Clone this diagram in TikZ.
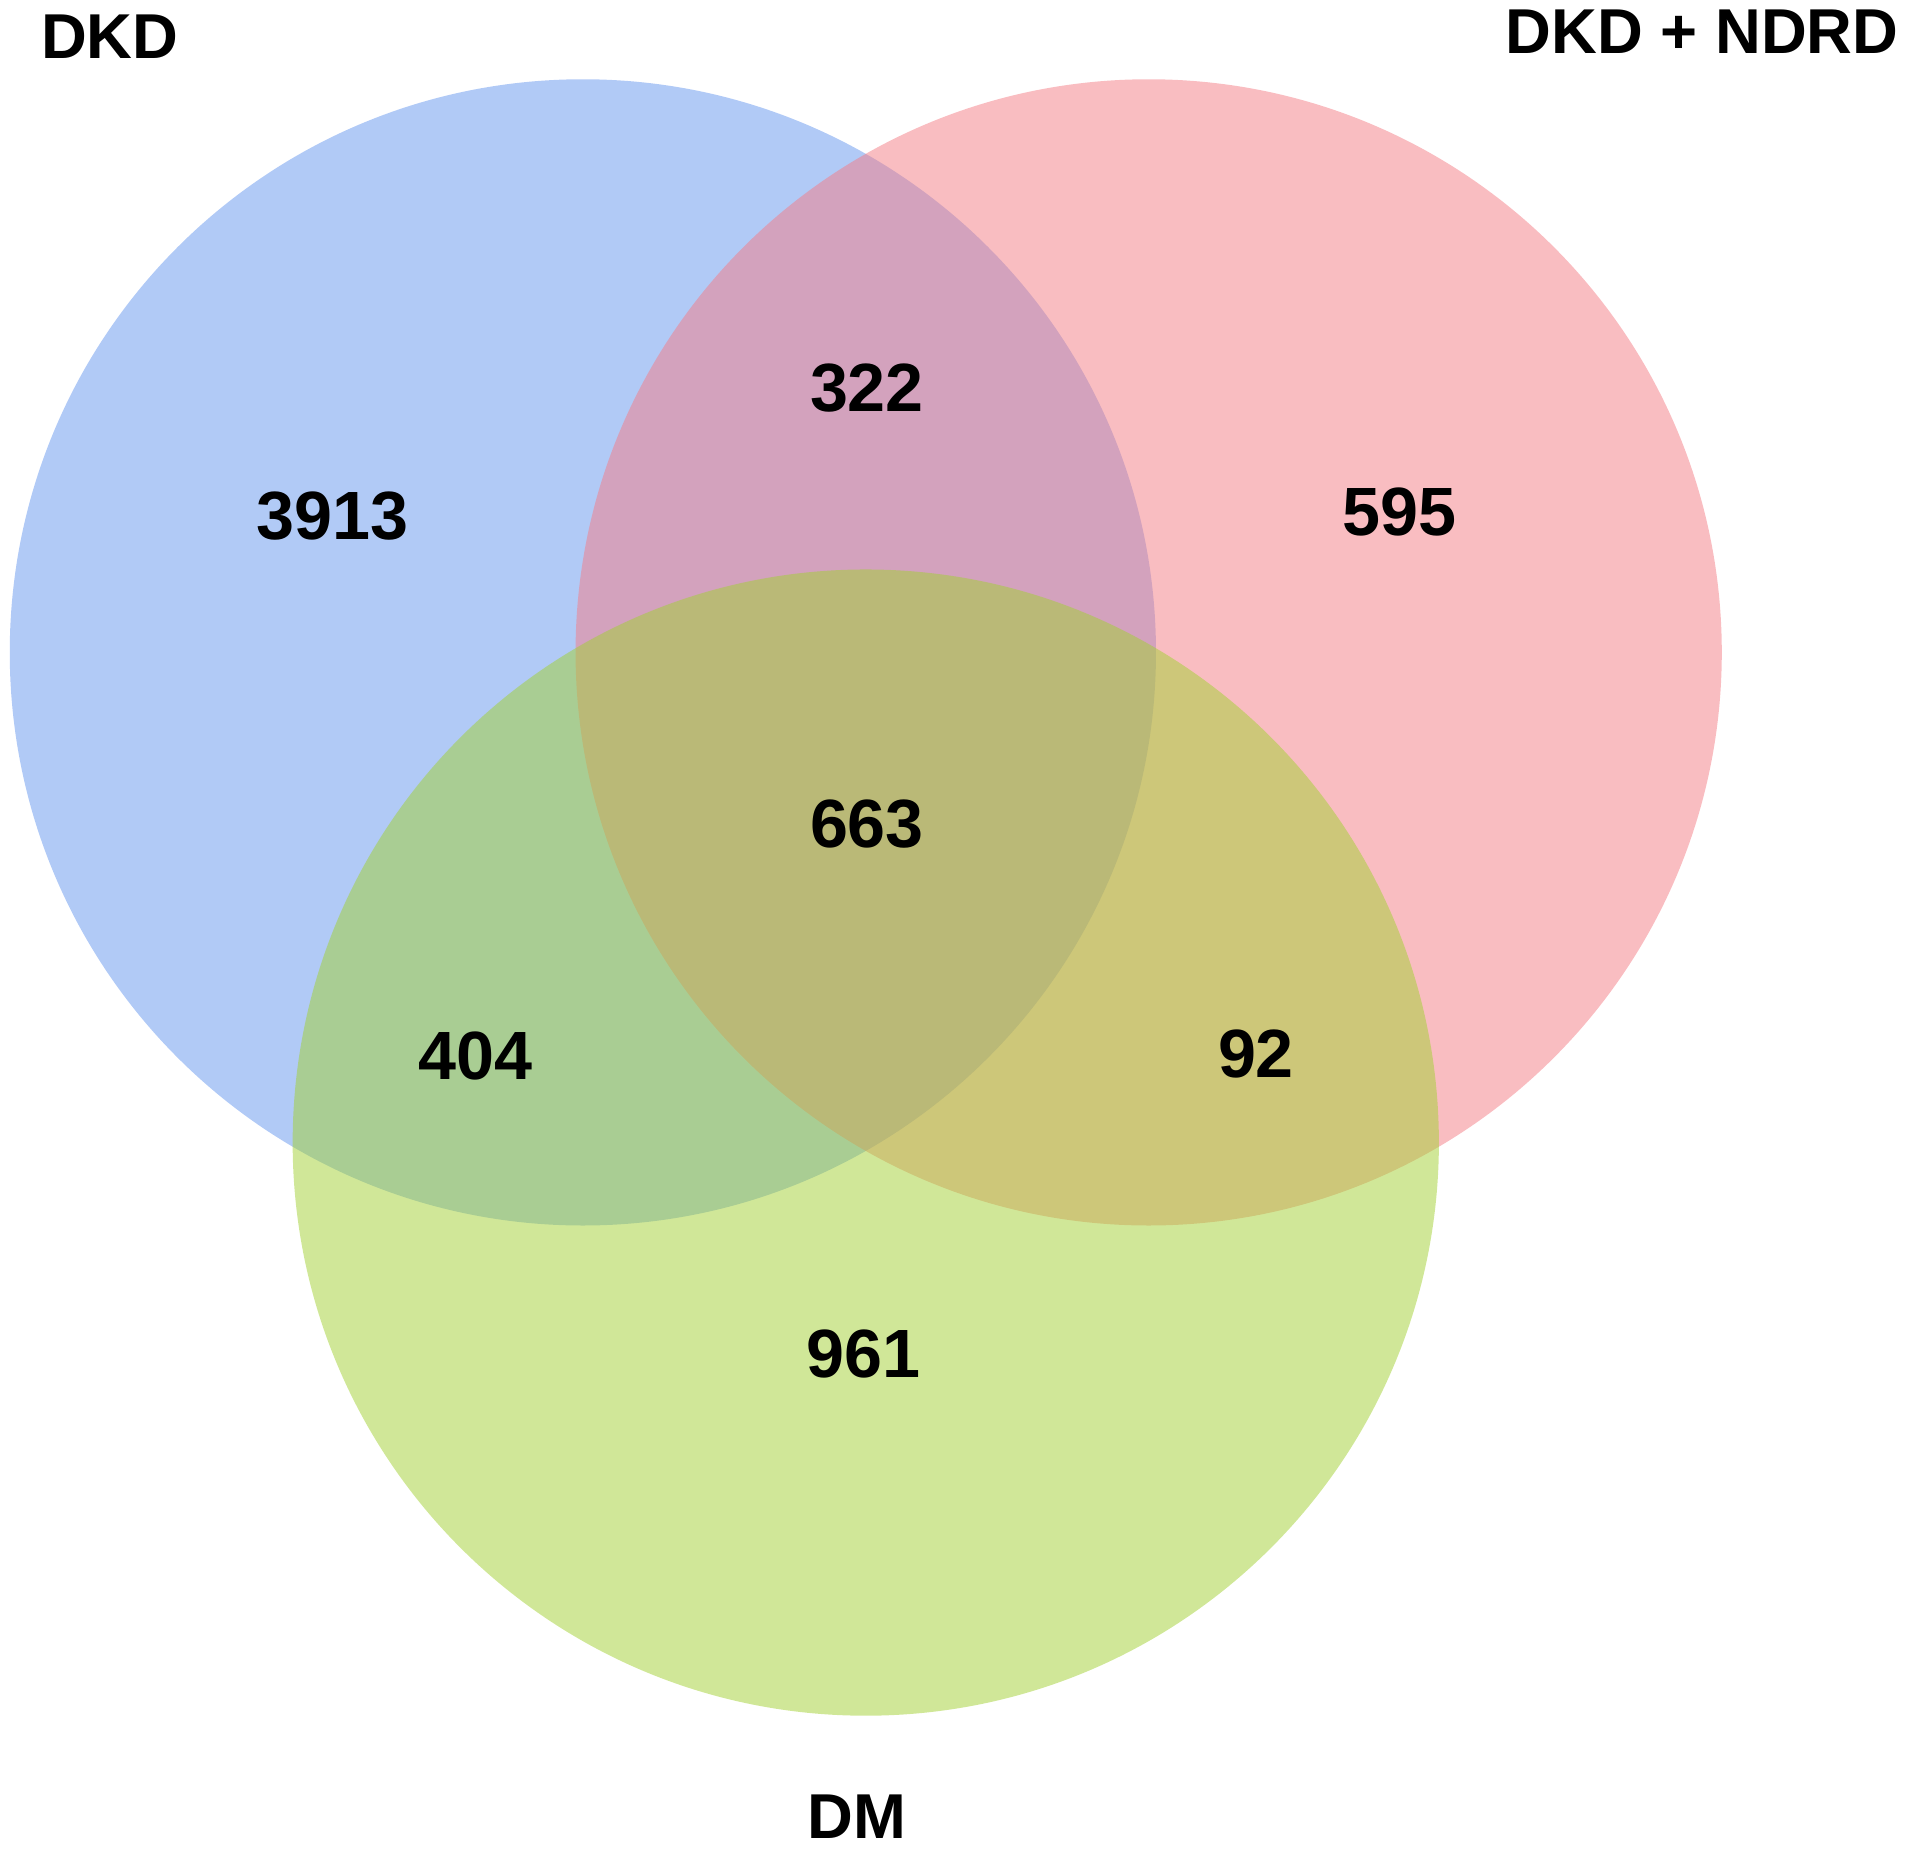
\documentclass[tikz,border=0pt]{standalone}
\usepackage{fontspec}
\setmainfont{Liberation Sans}
\begin{document}
\begin{tikzpicture}[x=0.5pt,y=-0.5pt,
  setcircle/.style={fill opacity=0.5,draw=none},
  num/.style={font=\bfseries\fontsize{28}{32}\selectfont},
  lab/.style={font=\bfseries\fontsize{26}{30}\selectfont}]
\useasboundingbox (0,0) rectangle (1568,1516);
\definecolor{cblue}{HTML}{6495ED}
\definecolor{cred}{HTML}{F47C84}
\definecolor{cgreen}{HTML}{A2D032}
\fill[cblue,setcircle] (478,535) circle[radius=470];
\fill[cred,setcircle] (942,535) circle[radius=470];
\fill[cgreen,setcircle] (710,937) circle[radius=470];
\node[lab] (ldkd) at (90,30) {DKD};
\node[lab,anchor=east] (lnd) at (1564,26) {DKD + NDRD};
\node[lab] (ldm) at (703,1490) {DM};
\node[num] (a) at (273,423) {3913};
\node[num] (b) at (711,318) {322};
\node[num] (c) at (1148,420) {595};
\node[num] (d) at (711,676) {663};
\node[num] (e) at (390,866) {404};
\node[num] (f) at (1030,864) {92};
\node[num] (g) at (708,1110) {961};
\end{tikzpicture}
\end{document}
